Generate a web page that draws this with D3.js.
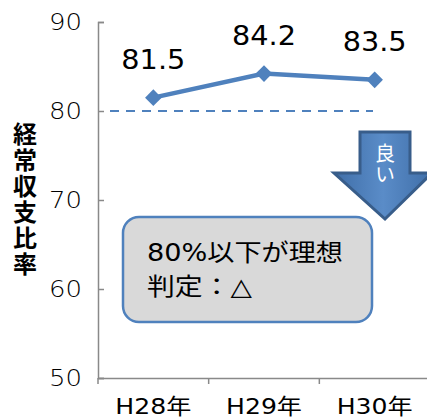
<!DOCTYPE html>
<html><head><meta charset="utf-8">
<script src="https://cdn.jsdelivr.net/npm/d3@7"></script>
<style>body{margin:0;background:#fff;}svg{display:block;}</style>
</head><body>
<svg id="c" width="427" height="417"></svg>
<script>
const categories = ["H28年", "H29年", "H30年"];
const values = [81.5, 84.2, 83.5];
const yTicks = [50, 60, 70, 80, 90];
const targetValue = 80;
const yTitle = "経常収支比率";
const noteLines = ["80%以下が理想", "判定：△"];
const arrowText = "良い";

const svg = d3.select("#c");
const font = "'DejaVu Sans', 'Noto Sans CJK JP', sans-serif";
const cjk = "'Noto Sans CJK JP', sans-serif";
const blue = "#4F81BD";
const x = d3.scaleBand().domain(categories).range([98, 430]);
const y = d3.scaleLinear().domain([50, 90]).range([378, 22]);

// axes
const ya = svg.append("g").attr("transform", "translate(98,0)")
  .call(d3.axisLeft(y).tickValues(yTicks).tickSize(-6).tickPadding(16).tickFormat(d3.format("d")));
ya.select(".domain").attr("stroke", "#898989").attr("stroke-width", 1.5);
ya.selectAll(".tick line").attr("stroke", "#898989").attr("stroke-width", 1.5);
ya.selectAll(".tick text").attr("font-family", font).attr("font-size", 23).attr("fill", "#000")
  .attr("font-weight", 300)
  .attr("textLength", 33).attr("lengthAdjust", "spacingAndGlyphs");

const xa = svg.append("g").attr("transform", "translate(0,378)")
  .call(d3.axisBottom(x).tickSize(0).tickPadding(0));
xa.select(".domain").attr("stroke", "#898989").attr("stroke-width", 1.5);
xa.selectAll(".tick text").attr("font-family", font).attr("font-size", 22).attr("fill", "#000")
  .attr("dy", null).attr("y", 36)
  .attr("textLength", 76).attr("lengthAdjust", "spacingAndGlyphs");
// boundary ticks
const bounds = categories.map(c => x(c));
svg.append("g").selectAll("line").data(bounds).join("line")
  .attr("x1", d => d).attr("x2", d => d).attr("y1", 378).attr("y2", 384)
  .attr("stroke", "#898989").attr("stroke-width", 1.5);

// target dashed line
svg.append("line")
  .attr("x1", 110).attr("x2", 373).attr("y1", y(targetValue)).attr("y2", y(targetValue))
  .attr("stroke", blue).attr("stroke-width", 2).attr("stroke-dasharray", "9,7");

// line
const cx = c => x(c) + x.bandwidth() / 2;
const pts = categories.map((c, i) => [cx(c), y(values[i])]);
svg.append("path").attr("d", d3.line()(pts)).attr("fill", "none")
  .attr("stroke", blue).attr("stroke-width", 4.5);
svg.append("g").selectAll("path").data(pts).join("path")
  .attr("d", d3.symbol(d3.symbolDiamond2, 175)())
  .attr("transform", d => `translate(${d[0]},${d[1]})`)
  .attr("fill", blue);

// value labels
svg.append("g").selectAll("text").data(pts).join("text")
  .attr("x", d => d[0]).attr("y", d => d[1] - 29)
  .attr("text-anchor", "middle").attr("font-family", font).attr("font-size", 27)
  .attr("textLength", 64).attr("lengthAdjust", "spacingAndGlyphs")
  .text((d, i) => values[i].toFixed(1));

// y title vertical
svg.append("text")
  .attr("x", 25).attr("y", 122)
  .attr("font-family", cjk).attr("font-size", 24).attr("font-weight", "bold")
  .style("writing-mode", "vertical-rl").attr("letter-spacing", 2)
  .text(yTitle);

// arrow
const defs = svg.append("defs");
const g = defs.append("linearGradient").attr("id", "ag").attr("x1", "0").attr("x2", "1").attr("y1", "0").attr("y2", "0");
g.append("stop").attr("offset", "0").attr("stop-color", "#3f6ea8");
g.append("stop").attr("offset", "0.5").attr("stop-color", "#5a8cc8");
g.append("stop").attr("offset", "1").attr("stop-color", "#3f6ea8");
svg.append("path")
  .attr("d", "M360,132 L410,132 L410,173 L432,173 L385,219 L334,173 L360,173 Z")
  .attr("fill", "url(#ag)").attr("stroke", "#385D8A").attr("stroke-width", 3).attr("stroke-linejoin", "miter");
svg.append("text")
  .attr("x", 385).attr("y", 143)
  .attr("font-family", cjk).attr("font-size", 20).attr("fill", "#fff")
  .style("writing-mode", "vertical-rl").attr("letter-spacing", 1)
  .text(arrowText);

// note box
svg.append("rect").attr("x", 123).attr("y", 217).attr("width", 249).attr("height", 105)
  .attr("rx", 16).attr("fill", "#d9d9d9").attr("stroke", blue).attr("stroke-width", 2.5);
const noteW = [196, 105];
svg.append("g").selectAll("text").data(noteLines).join("text")
  .attr("x", 147).attr("y", (d, i) => 261 + i * 34)
  .attr("font-family", font).attr("font-size", 24).attr("fill", "#000")
  .attr("textLength", (d, i) => noteW[i]).attr("lengthAdjust", "spacingAndGlyphs")
  .text(d => d);
</script>
</body></html>
